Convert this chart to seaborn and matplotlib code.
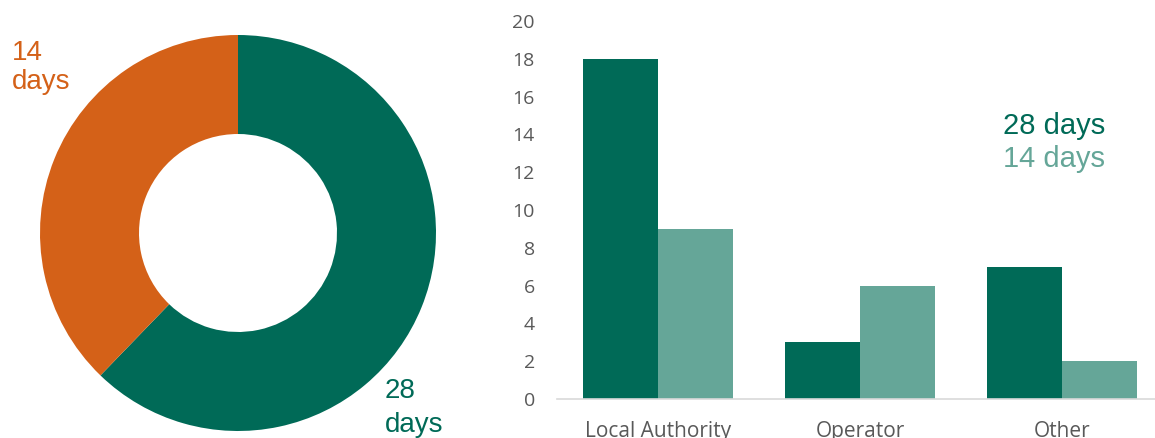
import matplotlib
matplotlib.use("Agg")
import matplotlib.pyplot as plt
import seaborn as sns
import pandas as pd

# Notice origin counts by notice period
categories = ["Local Authority", "Operator", "Other"]
days28 = [18, 3, 7]
days14 = [9, 6, 2]
series_names = ["28 days", "14 days"]
y_ticks = [0, 2, 4, 6, 8, 10, 12, 14, 16, 18, 20]

DARK_GREEN = "#006A57"
LIGHT_GREEN = "#65A698"
ORANGE = "#D46118"
TICK_GREY = "#595959"

sns.set_theme(style="white")
plt.rcParams["font.family"] = ["Open Sans", "DejaVu Sans"]

fig = plt.figure(figsize=(11.55, 4.38), dpi=100)

# ---- Donut: overall split between the two notice periods ----
totals = [sum(days28), sum(days14)]
ax_d = fig.add_axes([(238 - 200) / 1155, (438 - 233 - 200) / 438, 400 / 1155, 400 / 438])
ax_d.pie(totals, colors=[DARK_GREEN, ORANGE], startangle=90, counterclock=False,
         radius=0.99, wedgeprops=dict(width=0.495, linewidth=0))
ax_d.set_xlim(-1, 1)
ax_d.set_ylim(-1, 1)
ax_d.set_aspect("equal")
ax_d.axis("off")

fig.text(12 / 1155, 1 - 40 / 438, "14\ndays", color=ORANGE, fontsize=20,
         family="Liberation Sans", ha="left", va="top", linespacing=1.15)
fig.text(385 / 1155, 1 - 378 / 438, "28\ndays", color=DARK_GREEN, fontsize=20,
         family="Liberation Sans", ha="left", va="top", linespacing=1.42)

# ---- Grouped bars by origin ----
df = pd.DataFrame({
    "category": categories * 2,
    "period": [series_names[0]] * len(categories) + [series_names[1]] * len(categories),
    "count": days28 + days14,
})

ax = fig.add_axes([557 / 1155, 39 / 438, (1155 - 557) / 1155, (399 - 21) / 438])
sns.barplot(data=df, x="category", y="count", hue="period", order=categories,
            hue_order=series_names, palette=[DARK_GREEN, LIGHT_GREEN],
            width=0.745, gap=0, saturation=1, linewidth=0, legend=False, ax=ax)
ax.set_xlim(-0.5, 2.46)
ax.set_ylim(0, 20)
ax.set_yticks(y_ticks)
ax.set_xlabel("")
ax.set_ylabel("")
for side in ["top", "right", "left"]:
    ax.spines[side].set_visible(False)
ax.spines["bottom"].set_color("#D9D9D9")
ax.spines["bottom"].set_linewidth(1.2)
ax.tick_params(axis="y", length=0, pad=16, labelsize=14, labelcolor=TICK_GREY)
ax.tick_params(axis="x", length=0, pad=16, labelsize=15, labelcolor=TICK_GREY)

fig.text(1105 / 1155, 1 - 126 / 438, series_names[0], color=DARK_GREEN, fontsize=21,
         family="Liberation Sans", ha="right", va="center")
fig.text(1105 / 1155, 1 - 159 / 438, series_names[1], color=LIGHT_GREEN, fontsize=21,
         family="Liberation Sans", ha="right", va="center")

fig.savefig("out.png", dpi=100)
